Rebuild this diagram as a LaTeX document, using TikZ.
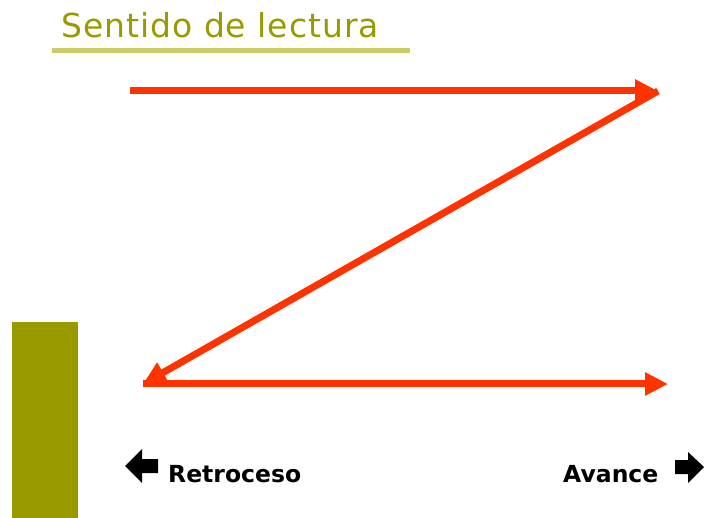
\documentclass[tikz,border=0pt]{standalone}
\usepackage{fontspec}
\setmainfont{DejaVu Sans}
\newfontfamily\titlefont[LetterSpace=3]{DejaVu Sans}
\usetikzlibrary{arrows.meta}
\definecolor{olive}{HTML}{999900}
\definecolor{lightolive}{HTML}{CCCC66}
\definecolor{zred}{HTML}{FF3300}
\tikzset{
  zline/.style={draw=zred, line width=7pt, -{Triangle[length=23pt,width=22pt]}},
  navtext/.style={anchor=base west, inner sep=0pt, font=\fontsize{23.5}{28}\selectfont\bfseries}
}
\begin{document}
\begin{tikzpicture}[x=1pt,y=-1pt]
  \useasboundingbox (0,0) rectangle (704,518);
  % title and its rule
  \node[anchor=base west, inner sep=0pt, text=olive, font=\fontsize{33}{38}\titlefont] (title) at (61,38) {Sentido de lectura};
  \fill[lightolive] (52,48) rectangle (410,53);
  % olive block
  \fill[olive] (12,322) rectangle (78,518);
  % the Z
  \coordinate (a) at (130,91);
  \coordinate (b) at (658,91);
  \coordinate (c) at (143,384);
  \coordinate (d) at (668,384);
  \draw[zline] (a) -- (b);
  \draw[zline] (b) -- (c);
  \draw[zline] (c) -- (d);
  % back and forward
  \fill (125,466) -- (142,449) -- (142,459) -- (158,459) -- (158,473) -- (142,473) -- (142,483) -- cycle;
  \node[navtext] (back) at (168,482) {Retroceso};
  \node[navtext] (fwd) at (563,482) {Avance};
  \fill (675,460) -- (688,460) -- (688,452) -- (704,467) -- (688,483) -- (688,474) -- (675,474) -- cycle;
\end{tikzpicture}
\end{document}
